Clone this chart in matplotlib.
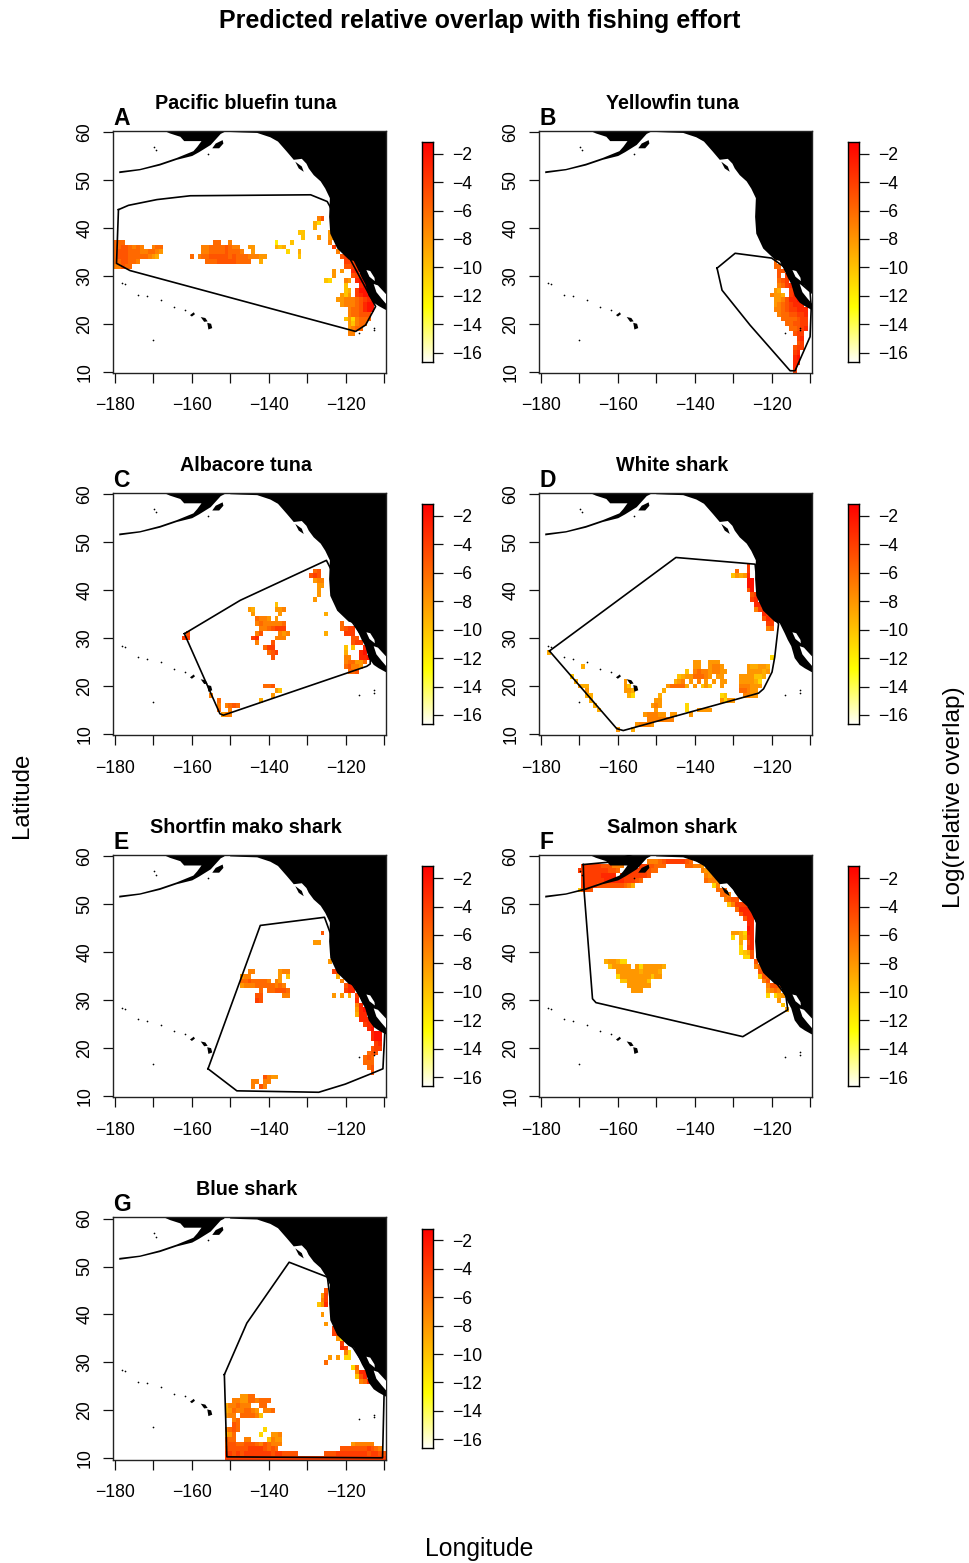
import numpy as np
import matplotlib
matplotlib.use("Agg")
from matplotlib import pyplot as plt
from matplotlib.colors import LinearSegmentedColormap

plt.rcParams['font.family'] = ['Liberation Sans', 'DejaVu Sans']

W, H = 969, 1563

titles = ["Pacific bluefin tuna", "Yellowfin tuna", "Albacore tuna", "White shark",
          "Shortfin mako shark", "Salmon shark", "Blue shark"]
letters = ["A", "B", "C", "D", "E", "F", "G"]

# colour bar range and ticks
bar_min, bar_max = -16.63, -1.18
bar_ticks = [-2, -4, -6, -8, -10, -12, -14, -16]
x_ticks = [-180, -170, -160, -150, -140, -130, -120, -110]
x_labels = ["\u2212180", "", "\u2212160", "", "\u2212140", "", "\u2212120", ""]
y_ticks = [10, 20, 30, 40, 50, 60]

# coast, traced by eye
land_lon = [-167.4, -167.4, -165.7, -163, -162, -157.5, -158.6, -159.6, -163.9, -168.3, -173.5, -178.9,
            -178.9, -173.5, -168.3, -163.9, -159.9, -158.1, -155.1, -152.5, -151.5, -152.3, -151.2,
            -150, -147, -143, -139.6, -137.6, -135.3, -133.5, -131.4, -130.2, -129.6, -128.3, -126.5, -125.3,
            -124.1, -124.3, -124, -122.2, -119.2, -117.9, -116.6, -115.8, -114.9, -114, -112.7, -111.4,
            -109.6, -108, -108]
land_lat = [61, 60.3, 59.7, 59, 58.1, 58.1, 56.9, 56, 54.6, 53.4, 52.3, 51.8,
            51.4, 52, 53, 54.2, 55, 55.8, 57.3, 59.6, 60.0, 61, 61,
            60, 59.9, 59.8, 58.9, 58, 55.9, 54.2, 54.4, 53.4, 52.4, 51, 49.7, 48.2,
            46.2, 42.3, 38.8, 35.7, 33.4, 33.1, 31, 29.6, 28.3, 25.8, 24.4, 23.7,
            22.9, 22.9, 61]
gulf_upper_lon = [-114.6, -113.6, -112.5, -112.4, -113.8]
gulf_upper_lat = [31.2, 31, 29.6, 28.9, 29.8]
gulf_lower_lon = [-112.7, -111.6, -109.3, -109.3, -110.7, -112]
gulf_lower_lat = [28.3, 28, 26, 24.0, 25.3, 26.6]

kodiak_lon = [-152, -153.8, -154.7, -152.9, -151.8]
kodiak_lat = [58.3, 57.6, 56.6, 56.6, 57.6]
haida_lon = [-133.1, -131.4, -130.9, -132.2]
haida_lat = [53.8, 52.8, 51.7, 52.4]
big_island_lon = [-156, -155, -154.7, -155.7]
big_island_lat = [20.2, 20, 19.1, 18.8]
maui_lon = [-157.7, -156.5, -155.9, -156.8]
maui_lat = [21.4, 21.2, 20.5, 20.4]
oahu_lon = [-160.5, -159.5, -159.2, -160]
oahu_lat = [21.8, 22.4, 22, 21.5]
dots_lon = [-178.3, -177.5, -174, -171.7, -168, -164.6, -161.9, -170, -116.4, -112.5, -112.6, -169.8, -169.4, -155.7]
dots_lat = [28.4, 28.2, 26, 25.7, 24.9, 23.5, 22.9, 16.6, 18.1, 19.1, 18.6, 56.9, 56.2, 55.5]

# range outlines
poly_a_lon = [-179.1, -176.5, -169.1, -160.4, -129.1, -124.8, -124.1, -118.7, -112.2, -114.8, -117.4, -176.1, -179.6]
poly_a_lat = [43.8, 44.7, 45.9, 46.7, 46.9, 45.5, 44.5, 33.3, 23.6, 19.75, 18.4, 31.1, 32.6]
poly_b_lon = [-134.2, -129.5, -120, -117, -114, -110, -109.7, -110, -113.9, -115.2, -125.6, -132.9]
poly_b_lat = [31.6, 34.7, 33.7, 32, 29.5, 26.7, 23.5, 17.3, 10.2, 10.2, 19.7, 27]
poly_c_lon = [-161.95, -147.4, -125, -123.6, -122, -118, -115, -113.6, -113.6, -114.5, -151.8, -152.7]
poly_c_lat = [30.9, 37.87, 46.2, 44, 37, 33, 29.5, 25.7, 24.6, 24.1, 13.9, 14.2]
poly_d_lon = [-177.8, -144.9, -124.3, -123.6, -121.5, -118.2, -119.2, -119.9, -122.1, -123.4, -158.6, -160.3]
poly_d_lat = [27.3, 46.8, 45.4, 40, 36, 33, 26, 22.9, 19.4, 18.5, 10.7, 11.1]
poly_e_lon = [-155.8, -142.2, -125.5, -124, -123, -118, -114, -109.8, -110.3, -113.6, -120.1, -127, -148.3]
poly_e_lat = [15.7, 45.6, 47.3, 44, 38, 33, 28, 23.5, 15.7, 14.6, 12.5, 10.8, 11.1]
poly_f_lon = [-169, -162.2, -156, -150, -146, -142, -137, -134.5, -132, -128, -125, -123.8, -123.8, -121.8, -118.8,
              -116.3, -115.8, -127.5, -165.7, -166.6, -168.8]
poly_f_lat = [58.3, 58.8, 60.5, 60.5, 60.3, 60, 58.3, 56, 55, 51.5, 48.8, 46, 39, 36, 33.6,
              31, 28, 22.4, 29.5, 30.3, 52.9]
poly_g_lon = [-151.55, -145.7, -134.7, -124.75, -124, -122, -118, -114, -110, -110.4, -150.9]
poly_g_lat = [27.45, 38.2, 50.9, 47.8, 43, 36, 33, 28, 23.3, 10.1, 10.3]

# overlap cells: (lat, first lon, one hex digit per degree = -log overlap, "." = empty)
cells_a = [
    (42, -127, "75"), (41, -128, "9b"), (40, -128, "9"), (39, -132, "aa......87"), (38, -131, "a...8..88"),
    (37, -180, "666"), (37, -154, "66..7"), (37, -138, "c...a"), (37, -124, "7"),
    (36, -180, "66556767..766"), (36, -157, "7766665677..88"), (36, -138, "9a9"), (36, -123, "4"),
    (35, -180, "6555666776678"), (35, -157, "77666656667..8"), (35, -135, "b..9"), (35, -122, "7"),
    (34, -180, "655566666789"), (34, -160, "6.766555556566677788"), (34, -132, "a"), (34, -121, "544"),
    (33, -180, "6655667"), (33, -156, "666555556666..9"), (33, -120, "444"),
    (32, -180, "77566"), (32, -120, "5544"),
    (31, -123, "8.8"), (31, -118, "33"), (30, -123, "8"), (30, -118, "544"),
    (29, -125, "ab"), (29, -120, "78.322"), (28, -120, "a...322"), (27, -120, "a9.4222"),
    (26, -121, "8a8.4322"), (25, -122, "8877765432"), (24, -121, "877765322"),
    (23, -119, "7665322"), (22, -119, "766555"), (21, -120, "a8b7666"),
    (20, -119, "8a766"), (19, -119, "8766"), (18, -119, "77"),
]
cells_b = [
    (33, -119, "6"), (32, -119, "66"), (31, -118, "55"), (30, -118, "5.4"), (29, -118, "654"), (28, -118, "7643"),
    (27, -119, "89..433"), (26, -120, "7889.4332"), (25, -119, "8875332"), (24, -119, "87654333"),
    (23, -119, "776544333"), (22, -118, "76655443"), (21, -117, "6666544"), (20, -116, "665544"),
    (19, -115, "66543"), (18, -114, "544"), (17, -113, "43"), (16, -113, "54"), (15, -114, "544"),
    (14, -114, "43"), (13, -114, "32"), (12, -114, "33"), (11, -114, "3"), (10, -114, "4"),
]
cells_c = [
    (44, -128, "65"), (43, -129, "545"), (42, -128, "877"), (41, -127, "88"), (40, -127, "8"), (39, -127, "8"), (38, -128, "8"),
    (37, -138, "a"), (36, -145, "89.....887"), (35, -144, "8......8"), (35, -125, "9"),
    (34, -143, "6778.8"), (33, -143, "76777776"), (33, -121, "6"), (32, -142, "7765444"), (32, -121, "6544"),
    (31, -161, "5"), (31, -143, "75....787"), (31, -125, "9....444"), (30, -162, "44"), (30, -144, "43....777"),
    (30, -118, "55"), (29, -143, "7...5"), (29, -118, "544"), (28, -141, "644"), (28, -120, "a.a..3"),
    (27, -140, "654"), (27, -120, "9...32"), (26, -139, "5"), (26, -120, "77..332"), (25, -120, "766886"),
    (24, -120, "65778"), (23, -119, "665"),
    (20, -141, "665"), (19, -138, "8a"), (18, -155, "7"), (18, -139, "8"), (17, -154, ".6"), (17, -142, "9"),
    (16, -153, "7.7656"), (15, -153, "6..7"), (14, -152, "877"),
]
cells_d = [
    (45, -126, "4"), (44, -129, "6..4"), (43, -130, "a8983"), (42, -126, "22"), (41, -126, "22"), (40, -126, "52"),
    (39, -125, "54"), (38, -125, "43"), (37, -124, "33"), (36, -124, "743"), (35, -122, "34"), (34, -122, "534"),
    (33, -121, "44"), (32, -121, "76"),
    (27, -178, "9"), (26, -120, "b"), (25, -140, "88..888"), (24, -169, "9"), (24, -140, "88..8778"), (24, -126, "899889"),
    (23, -142, "a.767787788"), (23, -126, "888898"), (22, -172, "a"), (22, -144, "a98866678.88"), (22, -128, "8888aa9"),
    (21, -171, "9"), (21, -158, "8"), (21, -145, "987.8.7.8.8.88"), (21, -128, "88889b"),
    (20, -170, "899"), (20, -158, "8a"), (20, -147, "866669.8.a8"), (20, -136, "a..8"), (20, -128, "777888"),
    (19, -168, "8"), (19, -158, "889"), (19, -148, "9"), (19, -128, "66788"),
    (18, -168, "99"), (18, -157, "9b"), (18, -149, "9"), (18, -133, "ba"), (18, -127, "7788"),
    (17, -167, "9"), (17, -150, "88"), (17, -133, "8b88"), (16, -166, "9"), (16, -151, "878"), (16, -142, "b"),
    (15, -165, "9"), (15, -150, "8"), (15, -142, "b"), (15, -139, "8888"),
    (14, -153, "877788.88"), (14, -141, "8"), (13, -152, "7777777"), (12, -155, "87778"), (11, -160, "8"), (11, -156, "9"),
]
cells_e = [
    (44, -126, "5"), (42, -128, "88"), (38, -124, "8"), (36, -145, "77......877"), (36, -123, "44"),
    (35, -147, "877.......8.a"), (35, -122, "9"), (34, -147, "66566667.78"), (34, -121, "7"),
    (33, -147, "877766666767"), (33, -120, "533"), (32, -142, "6.665556"), (32, -120, "433"),
    (31, -143, "55.....77"), (31, -123, "8.8.9.4"), (30, -143, "45"), (30, -117, "3"), (29, -117, "73"),
    (28, -117, "832"), (27, -117, "933"), (26, -116, "333"), (25, -115, "433"), (24, -114, "32"),
    (23, -113, "322"), (22, -113, "322"), (21, -112, "43"), (20, -113, "544"), (19, -114, "655"),
    (18, -115, "656"), (17, -115, "666"), (16, -114, "65"), (15, -113, "5"),
    (14, -141, "5788"), (13, -144, "77.77"), (12, -144, "7.57"),
]
cells_f = [
    (59, -152, "777654444456"), (58, -169, "44444555777"), (58, -154, "4455666"), (58, -142, "66778"),
    (57, -170, "44444444556"), (57, -156, "4444566"), (57, -138, "788"),
    (56, -169, "444443333"), (56, -159, "44444445"), (56, -137, "787"),
    (55, -169, "4444444"), (55, -163, "3333344456"), (55, -137, "6778"),
    (54, -169, "44444"), (54, -165, "5555555679"), (54, -135, "b7"),
    (53, -170, "a555"), (53, -134, "666"), (52, -133, "667"), (51, -132, "7655"),
    (50, -131, "a7444"), (49, -129, "63334"), (48, -128, "5333"), (47, -127, "533"), (46, -126, "33"), (45, -126, "23"),
    (44, -130, "889b33"), (43, -130, "b.9a43"), (42, -128, "9.53"), (41, -128, "b.43"), (40, -128, "ba95"), (39, -127, "bb5"),
    (38, -163, "9889bb"), (38, -124, "5"), (37, -162, "a88888.8b888889"), (37, -124, "76"),
    (36, -160, "888888988889"), (36, -123, "55"), (35, -160, "b88888888a88"), (35, -123, "a56"),
    (34, -159, "aa88888a"), (34, -122, "75"), (33, -157, "888888"), (33, -121, "7555"),
    (32, -156, "888"), (32, -121, "8767"), (31, -121, "b.b98"), (30, -118, "8"), (29, -117, "a"), (28, -116, "9"),
]
cells_g = [
    (45, -125, "5"), (44, -126, "84"), (43, -126, "74"), (42, -127, "a83"), (40, -126, "8"), (38, -125, "8"),
    (37, -123, "4"), (36, -123, "44"), (35, -122, "8b"), (34, -121, "4"), (33, -121, "34"), (32, -120, "7b"),
    (31, -124, "8.8.bb"), (30, -125, "6"), (29, -118, "b6"), (28, -117, "733"), (27, -117, "a53"), (26, -116, "763"),
    (23, -147, "8866"), (22, -149, "7788667666"), (21, -151, "9776777..66"),
    (20, -151, "986776678.776"), (19, -151, "877.66667a"), (18, -149, "76"), (17, -149, "56"),
    (16, -151, "7656......b"), (15, -151, "986......b..887"), (14, -151, "566..77....a788"),
    (13, -151, "655665556756777"), (13, -118, "877777"),
    (12, -151, "55555544445656"), (12, -121, "55555554567"),
    (11, -151, "4454544444445445555"), (11, -125, "5554444444454455"),
    (10, -151, "444444444444444444444444444444444444444444"),
]
all_cells = [cells_a, cells_b, cells_c, cells_d, cells_e, cells_f, cells_g]
all_polys = [(poly_a_lon, poly_a_lat), (poly_b_lon, poly_b_lat), (poly_c_lon, poly_c_lat), (poly_d_lon, poly_d_lat),
             (poly_e_lon, poly_e_lat), (poly_f_lon, poly_f_lat), (poly_g_lon, poly_g_lat)]

# R style heat colours, low values white
heat = LinearSegmentedColormap.from_list("heat", [(0, "#FFFFF8"), (0.25, "#FFFF00"), (1, "#FF0000")])

grid_lon = np.arange(-181, -108)
grid_lat = np.arange(9, 62)


def to_grid(rows):
    z = np.full((len(grid_lat), len(grid_lon)), np.nan)
    for lat, lon0, codes in rows:
        for i, c in enumerate(codes):
            if c != ".":
                z[lat - grid_lat[0], lon0 + i - grid_lon[0]] = -int(c, 16)
    return z


def px_axes(fig, left, top, width, height):
    return fig.add_axes([left / W, 1 - (top + height) / H, width / W, height / H])


fig = plt.figure(figsize=(W / 100, H / 100), dpi=100)

for n, title in enumerate(titles):
    col, row = n % 2, n // 2
    left = 113.3 + 426 * col
    top = 130.7 + 362.2 * row
    ax = px_axes(fig, left, top, 272.7, 242.3)
    ax.pcolormesh(grid_lon, grid_lat, to_grid(all_cells[n]), shading="nearest", cmap=heat,
                  vmin=bar_min, vmax=bar_max, zorder=1)
    ax.fill(land_lon, land_lat, color="k", lw=0, zorder=2)
    for gx, gy in [(gulf_upper_lon, gulf_upper_lat), (gulf_lower_lon, gulf_lower_lat)]:
        ax.fill(gx, gy, color="w", lw=0, zorder=3)
    for ix, iy in [(kodiak_lon, kodiak_lat), (haida_lon, haida_lat), (big_island_lon, big_island_lat),
                   (maui_lon, maui_lat), (oahu_lon, oahu_lat)]:
        ax.fill(ix, iy, color="k", lw=0, zorder=3)
    ax.scatter(dots_lon, dots_lat, s=1.5, c="k", lw=0, zorder=3)
    px, py = all_polys[n]
    ax.plot(px + px[:1], py + py[:1], c="k", lw=1.2, zorder=4, solid_joinstyle="round")

    ax.set_xlim(-180.44, -109.5)
    ax.set_ylim(9.73, 60.27)
    ax.set_xticks(x_ticks)
    ax.set_xticklabels(x_labels, fontsize=12.7)
    ax.set_yticks(y_ticks)
    ax.set_yticklabels(y_ticks, fontsize=12.7, rotation=90, va="center")
    ax.tick_params(length=7.5, width=0.9, pad=10, color="#111111")
    ax.tick_params(axis="y", pad=7)
    for s in ax.spines.values():
        s.set_linewidth(1.0)
        s.set_color("#222222")

    fig.text((left + 133) / W, 1 - (top - 27.5) / H, title, ha="center", va="center",
             fontsize=14.2, fontweight="bold")
    fig.text((left + 0) / W, 1 - (top - 12.5) / H, letters[n], ha="left", va="center",
             fontsize=16.5, fontweight="bold")

    # colour bar
    cax = px_axes(fig, left + 308.7, top + 11.3, 11.3, 219.7)
    ramp = np.linspace(bar_min, bar_max, 256).reshape(-1, 1)
    cax.imshow(ramp, origin="lower", aspect="auto", cmap=heat, vmin=bar_min, vmax=bar_max,
               extent=[0, 1, bar_min, bar_max])
    cax.set_xticks([])
    cax.yaxis.tick_right()
    cax.set_yticks(bar_ticks)
    cax.set_yticklabels([str(t).replace("-", "\u2212") for t in bar_ticks], fontsize=12.7)
    cax.tick_params(length=7.5, width=0.9, pad=6, color="#111111")
    for s in cax.spines.values():
        s.set_linewidth(1.0)

fig.text(480 / W, 1 - 21 / H, "Predicted relative overlap with fishing effort", ha="center", va="center",
         fontsize=18, fontweight="bold")
fig.text(479.5 / W, 1 - 1549 / H, "Longitude", ha="center", va="center", fontsize=17.8)
fig.text(22 / W, 1 - 795 / H, "Latitude", ha="center", va="center", rotation=90, fontsize=17.3)
fig.text(954 / W, 1 - 797 / H, "Log(relative overlap)", ha="center", va="center", rotation=90, fontsize=17.6)

fig.savefig("out.png", dpi=100)
